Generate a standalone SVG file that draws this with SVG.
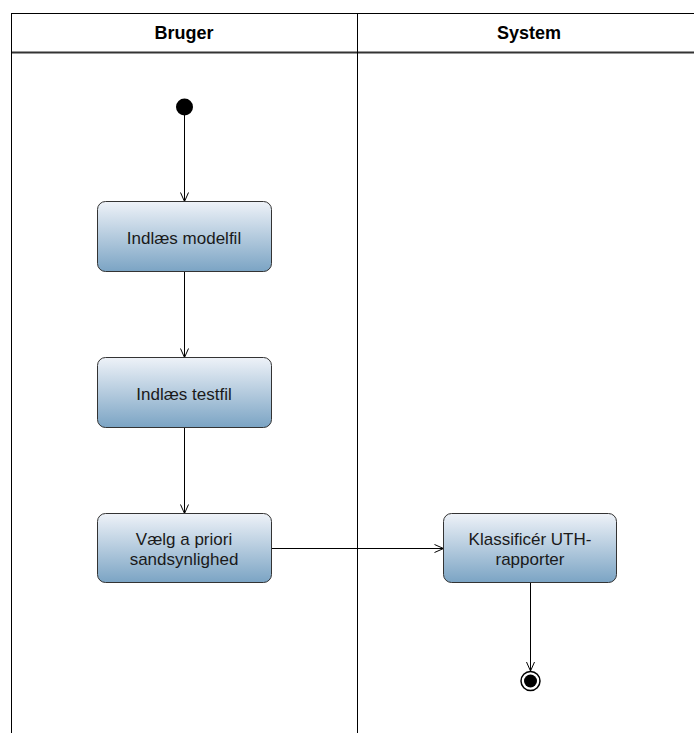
<svg xmlns="http://www.w3.org/2000/svg" width="694" height="733" viewBox="0 0 694 733">
<style>
.lane{stroke:#000;stroke-width:1;fill:none}
.hdr{font-family:"Liberation Sans",Arial,sans-serif;font-size:18px;font-weight:bold;fill:#000;text-anchor:middle}
.box{fill:url(#g);stroke:#333;stroke-width:1}
.lbl{font-family:"Liberation Sans",Arial,sans-serif;font-size:17px;fill:#1a1a1a;text-anchor:middle}
.edge{stroke:#000;stroke-width:1;fill:none;marker-end:url(#arr)}
</style>
<defs>
<linearGradient id="g" x1="0" y1="0" x2="0" y2="1">
<stop offset="0" stop-color="#eef2f8"/>
<stop offset="1" stop-color="#7ba4c4"/>
</linearGradient>
<marker id="arr" markerWidth="12" markerHeight="12" refX="10" refY="5" orient="auto" markerUnits="userSpaceOnUse">
<path d="M1,1 L10,5 L1,9" fill="none" stroke="#000" stroke-width="1"/>
</marker>
</defs>
<g id="lanes">
<line class="lane" x1="11.5" y1="13.5" x2="694" y2="13.5"/>
<line x1="11" y1="52.5" x2="694" y2="52.5" stroke="#333" stroke-width="2"/>
<line class="lane" x1="11.5" y1="13" x2="11.5" y2="733"/>
<line class="lane" x1="357.5" y1="13" x2="357.5" y2="733"/>
<text class="hdr" x="184" y="39">Bruger</text>
<text class="hdr" x="529" y="39">System</text>
</g>
<g id="connectors">
<line class="edge" x1="184.5" y1="115" x2="184.5" y2="201.5"/>
<line class="edge" x1="184.5" y1="271.5" x2="184.5" y2="357.5"/>
<line class="edge" x1="184.5" y1="427.5" x2="184.5" y2="513.5"/>
<line class="edge" x1="271.5" y1="548.5" x2="443.5" y2="548.5"/>
<line class="edge" x1="530.5" y1="582.5" x2="530.5" y2="671"/>
</g>
<g id="start"><circle cx="184.5" cy="107" r="8.5" fill="#000"/></g>
<g id="n1"><rect class="box" x="97.5" y="201.5" width="174" height="70" rx="8"/><text class="lbl" x="184" y="244">Indlæs modelfil</text></g>
<g id="n2"><rect class="box" x="97.5" y="357.5" width="174" height="70" rx="8"/><text class="lbl" x="184" y="400">Indlæs testfil</text></g>
<g id="n3"><rect class="box" x="97.5" y="513.5" width="174" height="69" rx="8"/><text class="lbl" x="184" y="545">Vælg a priori</text><text class="lbl" x="184" y="565">sandsynlighed</text></g>
<g id="n4"><rect class="box" x="443.5" y="513.5" width="173" height="69" rx="8"/><text class="lbl" x="530" y="545">Klassificér UTH-</text><text class="lbl" x="530" y="565">rapporter</text></g>
<g id="end"><circle cx="530.5" cy="681" r="9.5" fill="#fff" stroke="#000" stroke-width="1.5"/><circle cx="530.5" cy="681" r="6.5" fill="#000"/></g>
</svg>
